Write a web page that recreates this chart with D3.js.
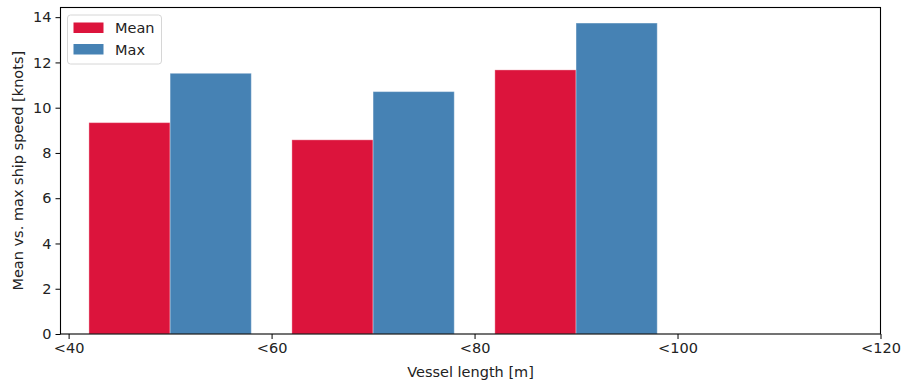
<!DOCTYPE html>
<html>
<head>
<meta charset="utf-8">
<script src="https://cdn.jsdelivr.net/npm/d3@7"></script>
<style>
  body { margin: 0; background: #fff; }
  svg { display: block; font-family: "DejaVu Sans", sans-serif; }
</style>
</head>
<body>
<svg id="chart" width="902" height="383"></svg>
<script>
// ---- data ----
const groupCenters = [50, 70, 90];
const meanValues = [9.34, 8.58, 11.67];
const maxValues = [11.52, 10.71, 13.74];
const xTickValues = [40, 60, 80, 100, 120];
const xTickLabels = ["<40", "<60", "<80", "<100", "<120"];
const yTickValues = [0, 2, 4, 6, 8, 10, 12, 14];
const seriesNames = ["Mean", "Max"];
const seriesColors = ["#DC143C", "#4682B4"];
const barWidth = 8;

// ---- layout ----
const FS = "14.5px";
const svg = d3.select("#chart");
const plotL = 60.5, plotR = 880.5, plotT = 7.5, plotB = 334;

const x = d3.scaleLinear().domain([39.2, 120]).range([plotL, plotR]);
const yMax = d3.max(maxValues) * 1.05;
const y = d3.scaleLinear().domain([0, yMax]).range([plotB, plotT]);

const g = svg.append("g");

// bars
const series = [meanValues, maxValues];
series.forEach((vals, si) => {
  g.selectAll(null)
    .data(vals.map((v, i) => ({ c: groupCenters[i], v })))
    .enter().append("rect")
    .attr("x", d => si === 0 ? x(d.c - barWidth) : x(d.c))
    .attr("width", d => x(d.c + barWidth) - x(d.c))
    .attr("y", d => y(d.v))
    .attr("height", d => y(0) - y(d.v))
    .attr("fill", seriesColors[si])
    .attr("stroke", "#ffffff")
    .attr("stroke-opacity", 0.35)
    .attr("stroke-width", 1);
});

// axes
const xAxis = d3.axisBottom(x).tickValues(xTickValues)
  .tickFormat((d, i) => xTickLabels[i]).tickSize(5).tickPadding(4);
const yAxis = d3.axisLeft(y).tickValues(yTickValues)
  .tickFormat(d3.format("d")).tickSize(5).tickPadding(4);

const gx = svg.append("g").attr("transform", `translate(0,${plotB})`).call(xAxis);
const gy = svg.append("g").attr("transform", `translate(${plotL},0)`).call(yAxis);
[gx, gy].forEach(a => {
  a.select(".domain").remove();
  a.selectAll(".tick line").attr("stroke", "#000").attr("stroke-width", 1);
  a.selectAll(".tick text").attr("fill", "#222").style("font-size", FS)
    .style("font-family", "'DejaVu Sans', sans-serif");
});

// frame
svg.append("rect")
  .attr("x", plotL).attr("y", plotT)
  .attr("width", plotR - plotL).attr("height", plotB - plotT)
  .attr("fill", "none").attr("stroke", "#000").attr("stroke-width", 1.1);

// axis labels
svg.append("text")
  .attr("x", (plotL + plotR) / 2).attr("y", 377)
  .attr("text-anchor", "middle").attr("fill", "#222")
  .style("font-size", FS).text("Vessel length [m]");
svg.append("text")
  .attr("transform", `translate(23,${(plotT + plotB) / 2}) rotate(-90)`)
  .attr("text-anchor", "middle").attr("fill", "#222")
  .style("font-size", FS).text("Mean vs. max ship speed [knots]");

// legend
const lg = svg.append("g");
lg.append("rect")
  .attr("x", 67.5).attr("y", 15).attr("width", 94).attr("height", 49)
  .attr("rx", 3).attr("fill", "#fff").attr("fill-opacity", 0.8)
  .attr("stroke", "#d6d6d6").attr("stroke-width", 1);
seriesNames.forEach((name, i) => {
  const yy = 22.5 + i * 21.5;
  lg.append("rect").attr("x", 73.5).attr("y", yy)
    .attr("width", 30).attr("height", 10.5).attr("fill", seriesColors[i]);
  lg.append("text").attr("x", 115).attr("y", yy + 10.5)
    .attr("fill", "#222").style("font-size", FS).text(name);
});
</script>
</body>
</html>
